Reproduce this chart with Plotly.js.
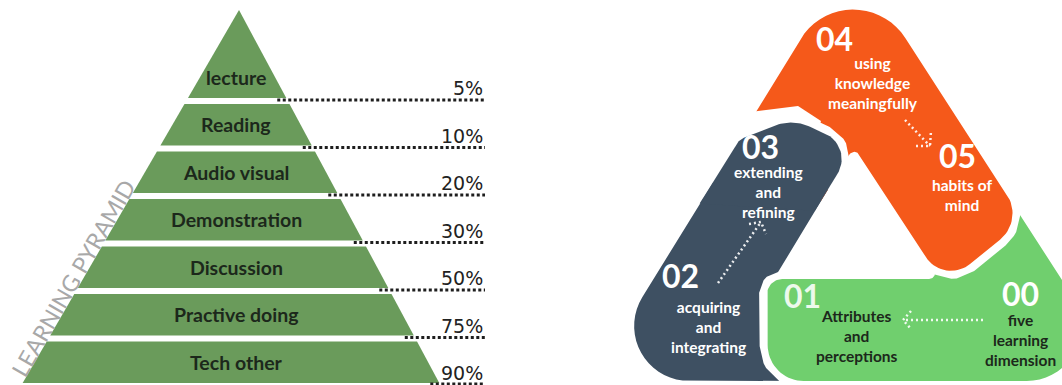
<!DOCTYPE html>
<html><head><meta charset="utf-8">
<script src="https://cdn.plot.ly/plotly-3.0.1.min.js"></script>
<style>html,body{margin:0;padding:0;background:#fff;}#chart{width:1062px;height:385px;}</style>
</head><body><div id="chart"></div>
<script>
// ---------------- data ----------------
const levels = ['lecture','Reading','Audio visual','Demonstration','Discussion','Practive doing','Tech other'];
const retention = [5,10,20,30,50,75,90];
const retentionLabels = ['5%','10%','20%','30%','50%','75%','90%'];
const pyramidTitle = 'LEARNING PYRAMID';
const stepNumbers = ['00','01','02','03','04','05'];
const stepTexts = ['five<br>learning<br>dimension','Attributes<br>and<br>perceptions','acquiring<br>and<br>integrating','extending<br>and<br>refining','using<br>knowledge<br>meaningfully','habits of<br>mind'];

// ---------------- layout constants ----------------
const W = 1062, H = 385;
const FONT = 'Lato, "Open Sans", sans-serif';
const PFONT = '"DejaVu Sans", Lato, sans-serif';
const pyrGreen = '#6a9b5b', txtDark = '#1c281b';
const apex = [239, 10], baseY = 383, slopeL = 0.58, slopeR = 0.537, topBottom = 98, bandGap = 6, pctRight = 485;
const colDark = '#3e5062', colOrange = '#f5591a', colGreen = '#70cf6e';
const tri = {A: [682, 330], B: [853, 51], C: [1034, 330]};
const halfW = 51, gap = 8;
const stepNumPos = [[1020, 293], [802, 295], [680, 275], [760, 146], [834, 38], [957, 155]];
const stepTxtPos = [[1020, 340], [857, 336], [708, 327], [768, 192], [873, 83], [962, 195]];
const stepNumCol = ['#ffffff', 'rgba(255,255,255,0.88)', '#ffffff', '#ffffff', '#ffffff', '#ffffff'];
const stepTxtCol = [txtDark, txtDark, '#ffffff', '#ffffff', '#ffffff', '#ffffff'];

const traces = [];
const annotations = [];

// ---------------- pyramid ----------------
const nB = levels.length;
const stepH = (baseY - topBottom) / (nB - 1);
const xl = y => apex[0] - slopeL * (y - apex[1]);
const xr = y => apex[0] + slopeR * (y - apex[1]);
const bands = levels.map((name, i) => ({
  name,
  top: i === 0 ? apex[1] : topBottom + bandGap + (i - 1) * stepH,
  bot: i === 0 ? topBottom : topBottom + i * stepH
}));
bands.forEach((b, i) => {
  const xs = i === 0 ? [apex[0], xr(b.bot), xl(b.bot), apex[0]] : [xl(b.top), xr(b.top), xr(b.bot), xl(b.bot), xl(b.top)];
  const ys = i === 0 ? [b.top, b.bot, b.bot, b.top] : [b.top, b.top, b.bot, b.bot, b.top];
  traces.push({type: 'scatter', mode: 'lines', x: xs, y: ys, fill: 'toself', fillcolor: pyrGreen,
    line: {width: 0, color: pyrGreen}, hoverinfo: 'skip', name: b.name});
  const ly = Math.min(b.bot + 2, 384);
  traces.push({type: 'scatter', mode: 'lines', x: [xr(b.bot) - 9, pctRight], y: [ly, ly],
    line: {color: '#1e1e1e', width: 3, dash: '3px,2.5px'}, hoverinfo: 'skip', name: retention[i] + '%'});
  annotations.push({x: 236, y: i === 0 ? b.top + (b.bot - b.top) * 0.77 : (b.top + b.bot) / 2,
    text: '<b>' + b.name + '</b>', showarrow: false, xanchor: 'center', yanchor: 'middle',
    font: {family: FONT, size: 19.5, color: txtDark}});
  annotations.push({x: pctRight, y: b.bot - 10, text: retentionLabels[i], showarrow: false,
    xanchor: 'right', yanchor: 'middle', font: {family: PFONT, size: 19, color: '#222222'}});
});
annotations.push({x: 73, y: 278, text: pyramidTitle, showarrow: false, textangle: -60,
  font: {family: FONT, size: 23, color: '#a8a8a8'}});

// ---------------- cycle geometry helpers ----------------
const add = (a, b) => [a[0] + b[0], a[1] + b[1]];
const sub = (a, b) => [a[0] - b[0], a[1] - b[1]];
const mul = (a, s) => [a[0] * s, a[1] * s];
const dot = (a, b) => a[0] * b[0] + a[1] * b[1];
const norm = a => { const l = Math.hypot(a[0], a[1]); return [a[0] / l, a[1] / l]; };
function roundPoly(pts, radii) {
  const out = [], n = pts.length;
  for (let i = 0; i < n; i++) {
    const P = pts[i], r = radii[i];
    if (!r) { out.push(P); continue; }
    const d1 = norm(sub(pts[(i - 1 + n) % n], P)), d2 = norm(sub(pts[(i + 1) % n], P));
    const A = Math.acos(Math.max(-1, Math.min(1, dot(d1, d2))));
    const t = r / Math.tan(A / 2);
    const T1 = add(P, mul(d1, t)), T2 = add(P, mul(d2, t));
    const Cc = add(P, mul(norm(add(d1, d2)), r / Math.sin(A / 2)));
    const a1 = Math.atan2(T1[1] - Cc[1], T1[0] - Cc[0]);
    let da = Math.atan2(T2[1] - Cc[1], T2[0] - Cc[0]) - a1;
    while (da > Math.PI) da -= 2 * Math.PI;
    while (da < -Math.PI) da += 2 * Math.PI;
    const N = 18;
    for (let k = 0; k <= N; k++) { const a = a1 + da * k / N; out.push([Cc[0] + r * Math.cos(a), Cc[1] + r * Math.sin(a)]); }
  }
  return out;
}
const G = mul(add(add(tri.A, tri.B), tri.C), 1 / 3);
function outward(V, d) { let p = [-d[1], d[0]]; if (dot(p, sub(G, V)) > 0) p = mul(p, -1); return p; }

// end: list of [u, v, radius] in the long arm's local frame (v>0 outward), outer side first
function piece(cfg) {
  const V = cfg.V, dL = norm(sub(cfg.L, V)), dS = norm(sub(cfg.S, V));
  const nL = outward(V, dL), nS = outward(V, dS);
  const loc = (u, v) => add(add(V, mul(dL, u)), mul(nL, v));
  const th = Math.acos(dot(dL, dS));
  const bis = norm(add(dL, dS)), k = halfW / Math.sin(th / 2);
  const OC = sub(V, mul(bis, k)), IC = add(V, mul(bis, k));
  const endPts = cfg.end.map(e => loc(e[0], e[1]));
  const endR = cfg.end.map(e => e[2]);
  const So = add(add(V, mul(dS, cfg.uS)), mul(nS, halfW));
  const Si = sub(add(V, mul(dS, cfg.uS)), mul(nS, halfW));
  const full = roundPoly([So, OC].concat(endPts, [IC, Si]), [0, cfg.Rout].concat(endR, [6, 0]));
  const e0 = cfg.end[0], e1 = cfg.end[cfg.end.length - 1];
  const patch = roundPoly([loc(e0[0] - 75, halfW)].concat(endPts, [loc(e1[0] - 75, -halfW)]), [0].concat(endR, [0]));
  const rim = roundPoly([loc(e0[0] - 50, halfW)].concat(endPts, [loc(e1[0] - 50, -halfW)]), [0].concat(endR, [0]));
  return {full, patch, rim};
}
function fillTrace(pts, color) {
  return {type: 'scatter', mode: 'lines', x: pts.map(p => p[0]).concat([pts[0][0]]), y: pts.map(p => p[1]).concat([pts[0][1]]),
    fill: 'toself', fillcolor: color, line: {width: 0, color: color}, hoverinfo: 'skip'};
}
function outlineTrace(pts) {
  return {type: 'scatter', mode: 'lines', x: pts.map(p => p[0]), y: pts.map(p => p[1]),
    line: {width: 2 * gap, color: '#ffffff'}, hoverinfo: 'skip'};
}
const dark = piece({V: tri.A, L: tri.B, S: tri.C, end: [[192, 51, 20], [238, 16, 45], [246, -51, 28]], Rout: 55, uS: 120});
const orange = piece({V: tri.B, L: tri.C, S: tri.A, end: [[235, 51, 34], [246, -51, 30]], Rout: 62, uS: 145});
const green = piece({V: tri.C, L: tri.A, S: tri.B, end: [[266, 51, 36], [267, -51, 15]], Rout: 55, uS: 125});
// trims the orange arm end so that it stops short above the dark arm's rounded top
const orangeTrim = [[718, 116], [798, 106], [821, 121], [800, 185], [715, 185]];

traces.push(fillTrace(dark.full, colDark));
traces.push(outlineTrace(green.rim));
traces.push(fillTrace(green.full, colGreen));
traces.push(outlineTrace(orange.rim));
traces.push(fillTrace(orange.full, colOrange));
traces.push(fillTrace(orangeTrim, '#ffffff'));
traces.push(outlineTrace(dark.rim));
traces.push(fillTrace(dark.patch, colDark));

// dotted arrows (shaft + head)
function dotted(xs, ys) {
  traces.push({type: 'scatter', mode: 'lines', x: xs, y: ys, line: {color: 'rgba(255,255,255,0.9)', width: 2.5, dash: '2px,3px'}, hoverinfo: 'skip'});
}
dotted([905, 930], [120, 146]); dotted([916, 930, 931], [146, 146, 131]);
dotted([718, 761], [283, 222]); dotted([749, 761, 766], [224, 222, 234]);
dotted([983, 904], [320, 320]); dotted([911, 903, 911], [311, 320, 329]);

// step labels
stepNumbers.forEach((num, i) => {
  annotations.push({x: stepNumPos[i][0], y: stepNumPos[i][1], text: '<b>' + num + '</b>', showarrow: false,
    xanchor: 'center', yanchor: 'middle', font: {family: FONT, size: 32, color: stepNumCol[i]}});
  annotations.push({x: stepTxtPos[i][0], y: stepTxtPos[i][1], text: '<b>' + stepTexts[i] + '</b>', showarrow: false,
    xanchor: 'center', yanchor: 'middle', font: {family: FONT, size: 15.5, color: stepTxtCol[i]}});
});

const layout = {
  width: W, height: H, margin: {l: 0, r: 0, t: 0, b: 0},
  paper_bgcolor: '#ffffff', plot_bgcolor: '#ffffff', showlegend: false,
  xaxis: {range: [0, W], visible: false, fixedrange: true},
  yaxis: {range: [H, 0], visible: false, fixedrange: true},
  annotations: annotations
};
Plotly.newPlot('chart', traces, layout, {staticPlot: true, displayModeBar: false});
</script>
</body></html>
